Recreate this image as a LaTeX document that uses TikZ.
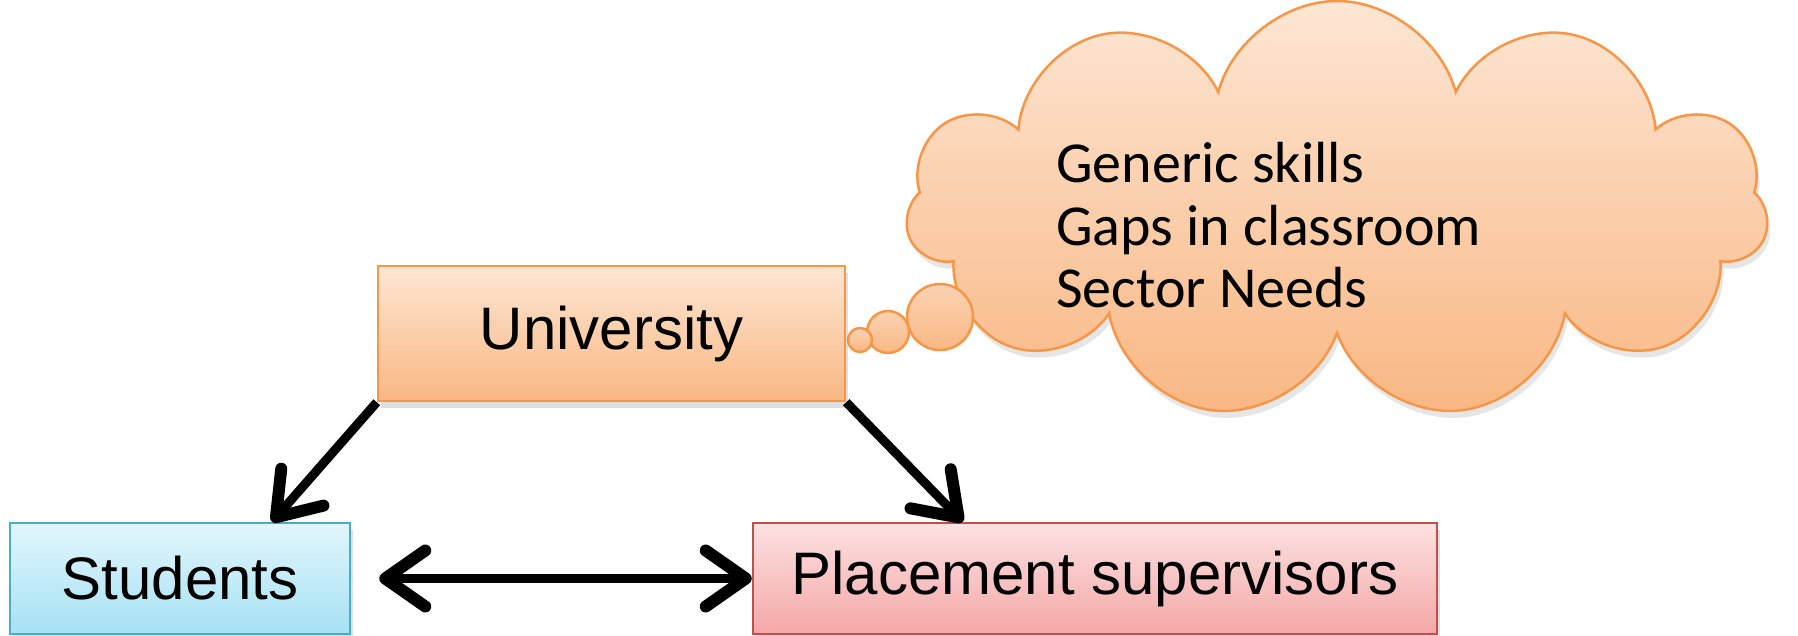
\documentclass[tikz,border=0pt]{standalone}
\usepackage{fontspec}
\setmainfont{Liberation Sans}
\newfontfamily\thoughtfont{Carlito}
\usetikzlibrary{arrows.meta,shapes.symbols,shadows,positioning}

\definecolor{uniline}{HTML}{F79646}
\definecolor{unitop}{HTML}{FDE6D4}
\definecolor{unibot}{HTML}{F9B783}
\definecolor{stuline}{HTML}{4BACC6}
\definecolor{stutop}{HTML}{E2F6FC}
\definecolor{stubot}{HTML}{A6E1F4}
\definecolor{plaline}{HTML}{C0504D}
\definecolor{platop}{HTML}{FCE1E1}
\definecolor{plabot}{HTML}{F4A7A7}

\begin{document}
\begin{tikzpicture}[x=1pt, y=-1pt,
        >={Straight Barb[length=40pt,width=56pt,line width=12pt,round]},
        box/.style={draw, line width=2.5pt, inner sep=0pt,
            font=\fontsize{60}{72}\selectfont,
            drop shadow={opacity=0.25, shadow xshift=3pt, shadow yshift=-7pt}},
        uni/.style={box, draw=uniline, top color=unitop, bottom color=unibot},
        stu/.style={box, draw=stuline, top color=stutop, bottom color=stubot},
        pla/.style={box, draw=plaline, top color=platop, bottom color=plabot},
        bubble/.style={draw=uniline, line width=2.5pt, top color=unitop!60!unibot, bottom color=unibot},
        arrow/.style={line width=9pt}]
    \useasboundingbox (0,0) rectangle (1798,636);

    % thought cloud
    \node[cloud, cloud puffs=11, aspect=2.0, minimum width=862pt, minimum height=418pt,
        draw=uniline, line width=2.5pt, top color=unitop, bottom color=unibot,
        drop shadow={opacity=0.2, shadow xshift=3pt, shadow yshift=-7pt}]
        at (1337, 210)(thought){};
    \node[circle, bubble, minimum size=66pt, inner sep=0pt] at (940, 317)(b3){};
    \node[circle, bubble, minimum size=42pt, inner sep=0pt] at (888, 332)(b2){};
    \node[circle, bubble, minimum size=24pt, inner sep=0pt] at (860, 340)(b1){};
    \node[anchor=base west, align=left, inner sep=0pt,
        font=\thoughtfont\fontsize{58}{62}\selectfont] at (1056, 307)(needs)
        {Generic skills\\Gaps in classroom\\Sector Needs};

    \node[uni, minimum width=467pt, minimum height=135pt] at (611.5, 333.5)(univ){University};
    \node[stu, minimum width=340pt, minimum height=111pt] at (180, 578.5)(stud){Students};
    \node[pla, minimum width=684pt, minimum height=111pt] at (1095, 578.5)(plac){Placement supervisors};

    \path[arrow, ->]
        (univ.south west) edge ([xshift=92pt]stud.north)
        (univ.south east) edge ([xshift=211pt]plac.north west)
        ;
    \path[arrow, <->]
        ([xshift=28pt]stud.east) edge (plac.west)
        ;
\end{tikzpicture}
\end{document}
